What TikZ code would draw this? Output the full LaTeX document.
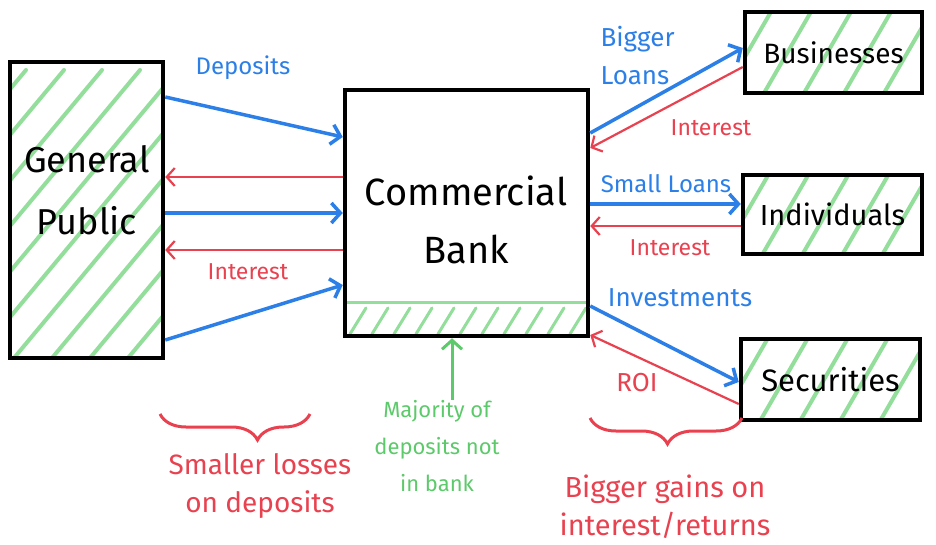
\documentclass[tikz,border=0pt]{standalone}
\usepackage{fontspec}
\setmainfont{Fira Sans}
\usetikzlibrary{arrows.meta,decorations.pathreplacing,calc,backgrounds}
\definecolor{cblue}{HTML}{2B7FE6}
\definecolor{cred}{HTML}{E8414F}
\definecolor{cgreen}{HTML}{5CC96A}
\definecolor{chatch}{HTML}{94DE9C}
\tikzset{
  box/.style={draw=black,line width=4.5pt,inner sep=0pt,align=center,font=\fontsize{#1}{#1}\selectfont},
  hatchline/.style={chatch,line width=4pt,line cap=round},
  bluearrow/.style={cblue,line width=3.5pt,-{Straight Barb[length=9pt,width=20pt]}},
  redarrow/.style={cred,line width=2.2pt,-{Straight Barb[length=8pt,width=18pt]}},
  greenarrow/.style={cgreen,line width=3pt,-{Straight Barb[length=9pt,width=20pt]}},
  bluelabel/.style={text=cblue,font=\fontsize{24}{38}\selectfont,align=left},
  redlabel/.style={text=cred,font=\fontsize{23}{28}\selectfont},
  bottomlabel/.style={font=\fontsize{29}{38}\selectfont,align=center},
  bracestyle/.style={cred,line width=3pt,decorate}
}
\begin{document}
\begin{tikzpicture}[x=1pt,y=-1pt]
\useasboundingbox (0,0) rectangle (936,545);
% boxes
\node[box=32,minimum width=153pt,minimum height=296pt] (gp) at (86.5,210) {};
\node[font=\fontsize{36}{62}\selectfont,align=center] (gptext) at (87,190) {General\\Public};
\node[box=38,minimum width=243pt,minimum height=246pt] (bank) at (466.5,213) {};
\node[font=\fontsize{38}{58}\selectfont,align=center] (banktext) at (466,220) {Commercial\\Bank};
\node[box=28,minimum width=177pt,minimum height=81pt] (bus) at (833.5,52.5) {Businesses};
\node[box=29,minimum width=179pt,minimum height=79pt] (ind) at (832.5,214.5) {Individuals};
\node[box=31,minimum width=179pt,minimum height=81pt] (sec) at (830.5,379.5) {Securities};
% hatching
\begin{scope}[on background layer]
  \begin{scope}
    \clip ($(gp.south west)+(3,-3)$) rectangle ($(gp.north east)+(-3,3)$);
    \foreach \x in {-300,-262,...,180} \draw[hatchline] (\x,370) -- ++(250,-300);
  \end{scope}
  \begin{scope}
    \clip ($(bus.south west)+(3,-3)$) rectangle ($(bus.north east)+(-3,3)$);
    \foreach \x in {720,760,...,920} \draw[hatchline] (\x,100) -- ++(52,-90);
  \end{scope}
  \begin{scope}
    \clip ($(ind.south west)+(3,-3)$) rectangle ($(ind.north east)+(-3,3)$);
    \foreach \x in {718,758,...,920} \draw[hatchline] (\x,262) -- ++(52,-90);
  \end{scope}
  \begin{scope}
    \clip ($(sec.south west)+(3,-3)$) rectangle ($(sec.north east)+(-3,3)$);
    \foreach \x in {716,756,...,920} \draw[hatchline] (\x,428) -- ++(52,-90);
  \end{scope}
  \begin{scope}
    \clip ($(bank.south west)+(3,-3)$) rectangle ($(bank.south east)+(-3,-36)$);
    \foreach \x in {350,372,...,590} \draw[hatchline,line width=3pt] (\x,334) -- ++(16,-26);
  \end{scope}
  \draw[chatch,line width=3.5pt] ($(bank.south west)+(4,-36)$) -- ($(bank.south east)+(-4,-36)$);
\end{scope}
% left arrows
\draw[bluearrow] (gp.east |- 0,97) -- (bank.west |- 0,137);
\draw[redarrow] (bank.west |- 0,177) -- (gp.east |- 0,177);
\draw[bluearrow] (gp.east |- 0,213) -- (bank.west |- 0,213);
\draw[redarrow] (bank.west |- 0,250) -- (gp.east |- 0,250);
\draw[bluearrow] (gp.east |- 0,340) -- (bank.west |- 0,285);
\node[bluelabel] (deplabel) at (243,68) {Deposits};
\node[redlabel] (intlabel1) at (248,272) {Interest};
% right arrows
\draw[bluearrow] (bank.east |- 0,133) -- (bus.west |- 0,48);
\draw[redarrow] (bus.west |- 0,67) -- (bank.east |- 0,148);
\node[bluelabel,anchor=west,font=\fontsize{26}{38}\selectfont] (bigloans) at (597,56) {Bigger\\Loans};
\node[redlabel] (intlabel2) at (711,128) {Interest};
\draw[bluearrow] (bank.east |- 0,204) -- (ind.west |- 0,204);
\draw[redarrow] (ind.west |- 0,226) -- (bank.east |- 0,226);
\node[bluelabel] (smloans) at (666,184) {Small Loans};
\node[redlabel] (intlabel3) at (670,248) {Interest};
\draw[bluearrow] (bank.east |- 0,306) -- (sec.west |- 0,382);
\draw[redarrow] (sec.west |- 0,404) -- (bank.east |- 0,335);
\node[bluelabel,font=\fontsize{26}{30}\selectfont] (invlabel) at (680,298) {Investments};
\node[redlabel,font=\fontsize{26}{30}\selectfont] (roilabel) at (637,383) {ROI};
% green arrow and note
\coordinate (gstart) at (452,400);
\draw[greenarrow] (gstart) -- (gstart |- bank.south);
\node[bottomlabel,text=cgreen,font=\fontsize{22}{37}\selectfont] (note) at (437,446) {Majority of\\deposits not\\in bank};
% braces
\draw[bracestyle,decoration={brace,mirror,amplitude=26pt,aspect=0.65}] (160,414) -- (310,414);
\node[bottomlabel,text=cred,font=\fontsize{28}{38}\selectfont] (lossnote) at (260,486) {Smaller losses\\on deposits};
\draw[bracestyle,decoration={brace,mirror,amplitude=26pt,aspect=0.51}] (590,418) -- (742,418);
\node[bottomlabel,text=cred] (gainnote) at (665,507) {Bigger gains on\\interest/returns};
\end{tikzpicture}
\end{document}
